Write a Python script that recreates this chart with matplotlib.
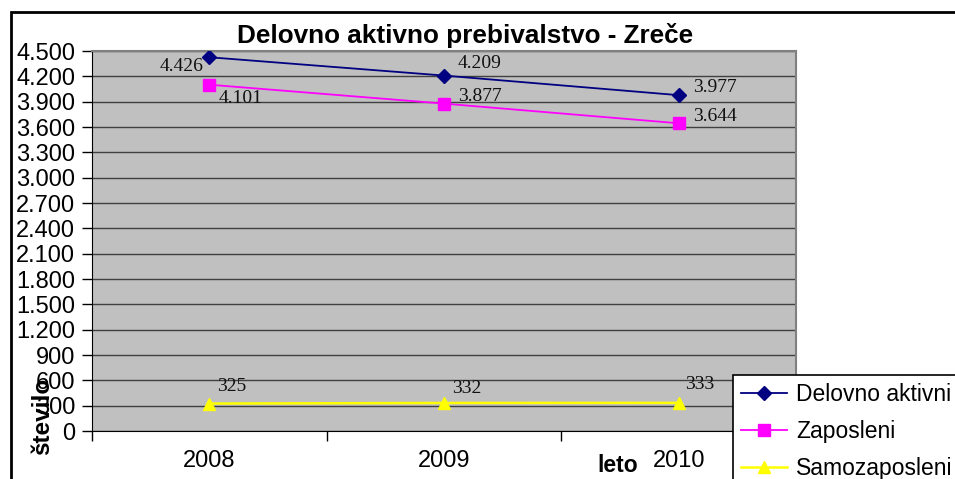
import matplotlib.pyplot as plt
from matplotlib.patches import Rectangle
from matplotlib.ticker import FuncFormatter, FixedLocator

# Data
years = ['2008', '2009', '2010']
delovno_aktivni = [4426, 4209, 3977]
zaposleni = [4101, 3877, 3644]
samozaposleni = [325, 332, 333]

# label offsets in pixels (dx, dy, ha)
off_da = [(-6, -9, 'right'), (14, 12, 'left'), (14, 8, 'left')]
off_za = [(9, -14, 'left'), (14, 7, 'left'), (14, 7, 'left')]
off_sa = [(8, 17, 'left'), (8, 14, 'left'), (6, 18, 'left')]

plt.rcParams['font.family'] = ['Liberation Sans', 'DejaVu Sans']

fig = plt.figure(figsize=(9.55, 4.79), dpi=100)
W, H = 955, 479
ax = fig.add_axes([92 / W, 1 - 431 / H, (796 - 92) / W, (431 - 51) / H])
ax.set_facecolor('#C0C0C0')

x = list(range(len(years)))
ax.plot(x, delovno_aktivni, color='#000080', marker='D', markersize=7, lw=1.3,
        label='Delovno aktivni', zorder=3)
ax.plot(x, zaposleni, color='#FF00FF', marker='s', markersize=8, lw=1.3,
        label='Zaposleni', zorder=3)
ax.plot(x, samozaposleni, color='#FFFF00', marker='^', markersize=9, lw=1.8,
        label='Samozaposleni', zorder=3)

for vals, offs in [(delovno_aktivni, off_da), (zaposleni, off_za), (samozaposleni, off_sa)]:
    for i, v in enumerate(vals):
        dx, dy, ha = offs[i]
        txt = f'{v:,}'.replace(',', '.')
        ax.annotate(txt, (i, v), xytext=(dx, dy), textcoords='offset pixels',
                    ha=ha, va='center', fontsize=14, family='Liberation Serif',
                    color='#111111', zorder=4)

ax.set_xlim(-0.5, 2.5)
ax.set_ylim(0, 4500)
ax.set_yticks(range(0, 4501, 300))
ax.yaxis.set_major_formatter(FuncFormatter(lambda v, p: f'{int(v):,}'.replace(',', '.')))
ax.yaxis.grid(True, color='#404040', lw=1)
ax.set_axisbelow(True)
ax.tick_params(axis='y', labelsize=17, length=7, width=1, direction='out', pad=5)

ax.set_xticks(x)
ax.set_xticklabels(years)
ax.tick_params(axis='x', which='major', length=0, labelsize=17, pad=14)
ax.xaxis.set_minor_locator(FixedLocator([-0.5, 0.5, 1.5, 2.5]))
ax.tick_params(axis='x', which='minor', length=7, width=1, direction='out')

ax.spines['left'].set_color('black')
ax.spines['bottom'].set_color('black')
ax.spines['top'].set_color('#808080')
ax.spines['right'].set_color('#808080')
ax.spines['top'].set_linewidth(1.5)
ax.spines['right'].set_linewidth(1.5)

fig.text(465 / W, 1 - 35 / H, 'Delovno aktivno prebivalstvo - Zreče', ha='center',
         va='center', fontsize=18.8, fontweight='bold')
fig.text(43 / W, 1 - 416 / H, 'število', rotation=90, ha='center', va='center',
         fontsize=17.5, fontweight='bold')
fig.text(618 / W, 1 - 465 / H, 'leto', ha='center', va='center',
         fontsize=16.5, fontweight='bold')

# outer chart frame
fig.patches.append(Rectangle((11 / W, -0.1), 1.2, 1 - 12 / H + 0.1,
                             transform=fig.transFigure, fill=False,
                             edgecolor='black', lw=2))

leg = fig.legend(loc='upper left', bbox_to_anchor=(733 / W, 1 - 375 / H),
                 fontsize=16.5, frameon=True, fancybox=False, edgecolor='black',
                 framealpha=1, borderaxespad=0, handlelength=2.0,
                 labelspacing=0.6, borderpad=0.35, handletextpad=0.4)
leg.get_frame().set_linewidth(1.2)

fig.savefig('out.png', dpi=100)
